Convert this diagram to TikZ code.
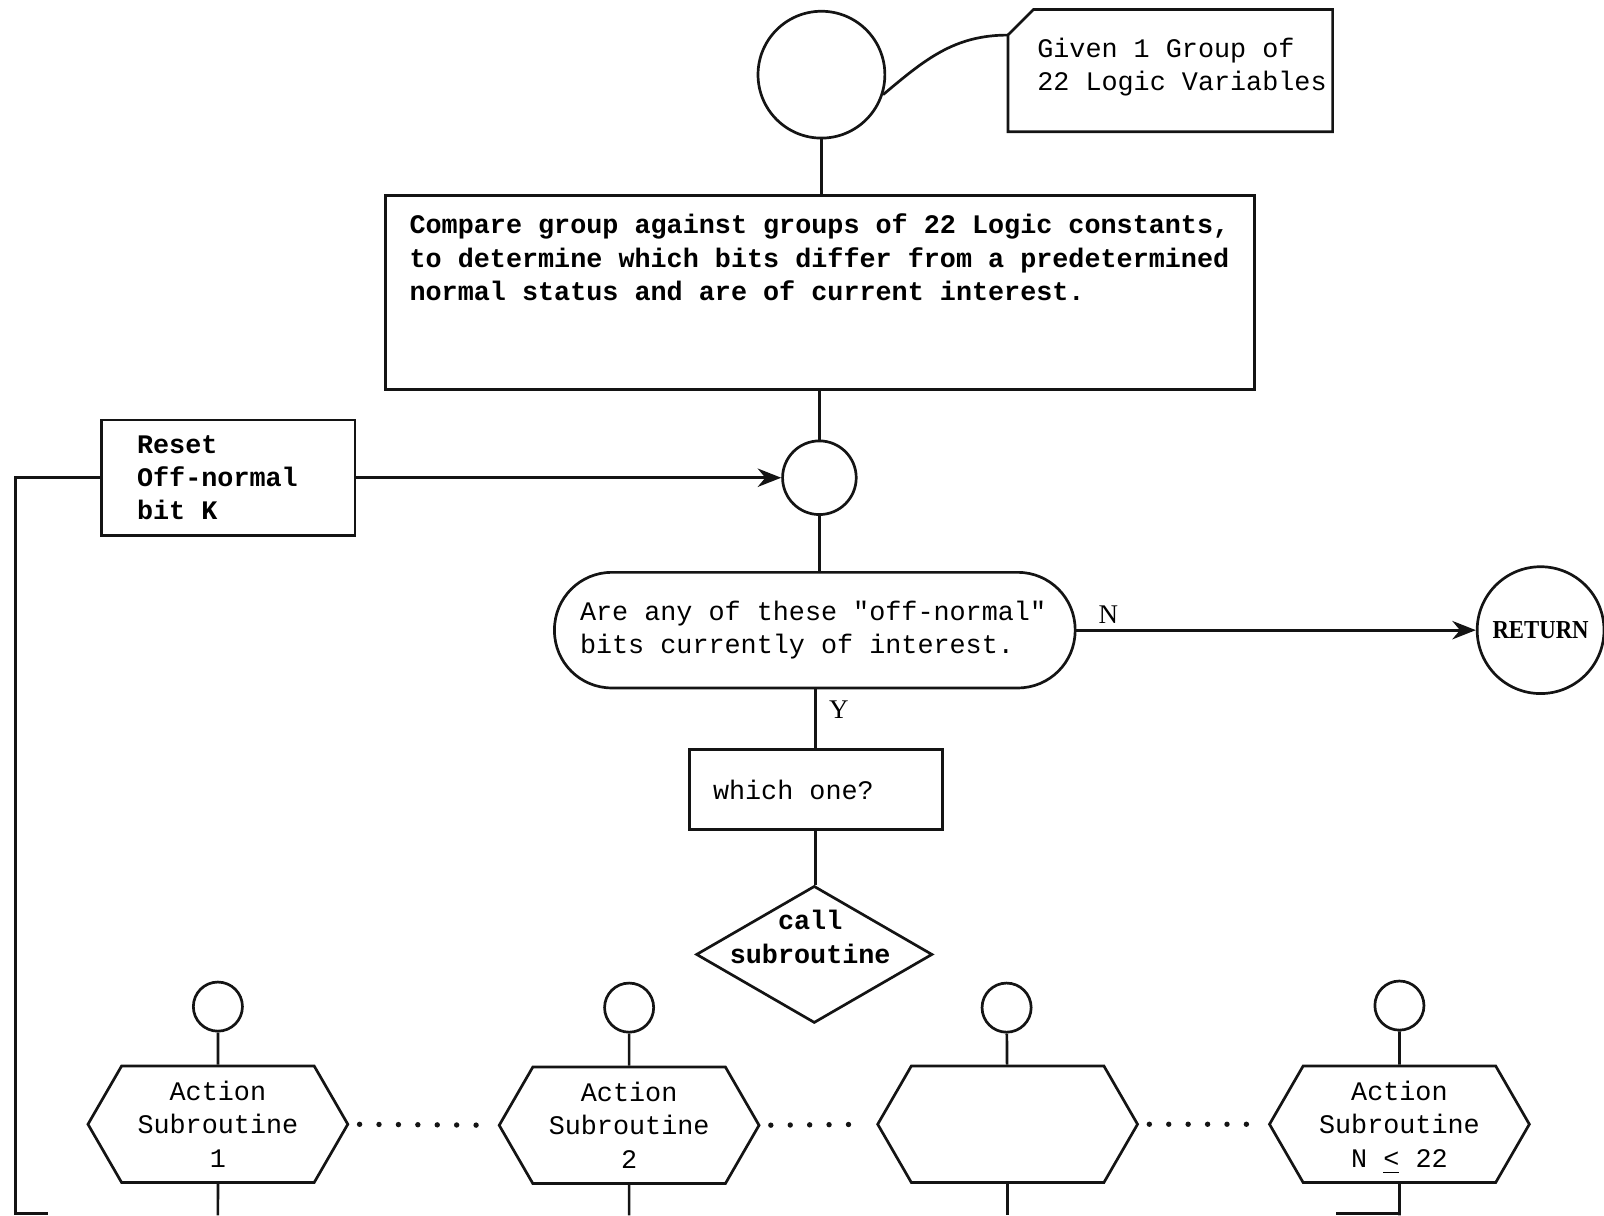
\documentclass[tikz,border=0pt]{standalone}
\usepackage{fontspec}
\setmainfont{Liberation Serif}
\setmonofont{Liberation Mono}
\usepackage{tikz}
\usetikzlibrary{arrows.meta,calc,positioning,shapes.geometric,shapes.misc,shapes.symbols}
\colorlet{chartLine}{black!92}
\newcommand{\chartfont}{\fontsize{7.45}{9.25}\selectfont\ttfamily}
\tikzset{
  chartbox/.style={
    rectangle, draw=chartLine, line width=0.75pt,
    align=flush left, font=\chartfont, inner ysep=1pt
  },
  chartcircle/.style={circle, draw=chartLine, line width=0.75pt, inner sep=0pt},
  charthex/.style={
    signal, signal to=west and east, signal pointer angle=120,
    draw=chartLine, line width=0.75pt, inner sep=0pt,
    minimum width=2.54cm, minimum height=1.14cm,
    align=center, font=\chartfont
  },
  charttext/.style={align=left, font=\chartfont, inner sep=0pt},
  chartline/.style={draw=chartLine, line width=0.75pt},
  chartarrow/.style={chartline, -{Stealth[length=2.3mm,width=1.8mm]}},
  chartdots/.style={
    draw=chartLine, line width=1.5pt, line cap=round,
    dash pattern=on 0pt off 5.4pt, shorten <=1mm, shorten >=1mm
  },
  chartlabel/.style={font=\fontsize{7.5}{9}\selectfont\rmfamily}
}

\begin{document}
\begin{tikzpicture}[x=1cm,y=1cm]
  \useasboundingbox (0,0) rectangle (15.68,11.88);

  \node[chartcircle, minimum size=1.24cm] (start) at (8.03,11.15) {};
  \node[rectangle, minimum width=3.16cm, minimum height=1.18cm] (given) at (11.44,11.19) {};
  \draw[chartline, line join=miter] (given.south west) -- ($(given.north west)+(0,-0.25)$)
    -- ($(given.north west)+(0.25,0)$) -- (given.north east) -- (given.south east) -- cycle;
  \node[charttext, anchor=north west] (giventext)
    at ($(given.north west)+(0.28,-0.27)$)
    {Given 1 Group of\\22 Logic Variables};

  \node[chartbox, minimum width=8.49cm, minimum height=1.9cm] (cmp) at (8.015,9.02) {};
  \node[charttext, anchor=north west, font=\chartfont\bfseries] (cmptext)
    at ($(cmp.north west)+(0.24,-0.19)$)
    {Compare group against groups of 22 Logic constants,\\
     to determine which bits differ from a predetermined\\
     normal status and are of current interest.};

  \node[chartcircle, minimum size=0.72cm] (join) at (8.01,7.21) {};
  \node[chartbox, font=\chartfont\bfseries, minimum height=1.13cm,
    text width=1.78cm, inner xsep=0.35cm] (reset) at (2.23,7.21)
    {Reset\\Off-normal\\bit K};

  \node[chartbox, rounded corners=5.6mm, minimum height=1.13cm,
    text width=4.59cm, inner xsep=0.25cm] (ask) at (7.965,5.72)
    {Are any of these "off-normal"\\bits currently of interest.};
  \node[chartcircle, minimum size=1.24cm,
    font=\fontsize{7.2}{8}\selectfont\rmfamily\bfseries] (ret) at (15.06,5.72)
    {\scalebox{0.88}[1]{RETURN}};

  \node[chartbox, minimum height=0.78cm, text width=2.01cm, inner xsep=0.23cm]
    (which) at (7.975,4.16) {which one?};
  \node[diamond, draw=chartLine, line width=0.75pt, inner sep=0pt,
    minimum width=2.31cm, minimum height=1.34cm] (call) at (7.96,2.55) {};
  \node[charttext, align=center, font=\chartfont\bfseries] (calltext)
    at ($(call.center)+(-0.04,0.17)$) {call\\subroutine};

  \node[chartcircle, minimum size=0.48cm] (sub1) at (2.13,2.04) {};
  \node[chartcircle, minimum size=0.48cm] (sub2) at (6.15,2.03) {};
  \node[chartcircle, minimum size=0.48cm] (sub3) at (9.84,2.03) {};
  \node[chartcircle, minimum size=0.48cm] (sub4) at (13.68,2.05) {};
  \node[charthex] (act1) at (2.13,0.89) {Action\\Subroutine\\1};
  \node[charthex] (act2) at (6.15,0.88) {Action\\Subroutine\\2};
  \node[charthex] (act3) at (9.85,0.89) {};
  \node[charthex] (act4) at (13.68,0.89) {Action\\Subroutine\\N \smash{\underline{<}} 22};

  \coordinate (base) at (0,0);
  \coordinate (loopcorner) at (0.15,0.02);
  \coordinate (loopend) at (0.47,0.02);
  \coordinate (stubcorner) at (13.68,0.02);
  \coordinate (stubend) at (13.06,0.02);

  \draw[chartline] (start.-18) to[out=40,in=180] ($(given.north west)+(0,-0.25)$);
  \draw[chartline] (start) -- (start |- cmp.north);
  \draw[chartline] (cmp.south -| join) -- (join);
  \draw[chartarrow] (reset.east) -- (join.west);
  \draw[chartline] (reset.west) -| (loopcorner) -- (loopend);
  \draw[chartline] (join) -- (join |- ask.north);
  \draw[chartarrow] (ask.east) -- node[chartlabel, above, inner sep=1.5pt, pos=0.08] (no) {N} (ret.west);
  \draw[chartline] (ask.south -| which) -- node[chartlabel, right, pos=0.34] (yes) {Y} (which);
  \draw[chartline] (which) -- (which |- call.north);

  \draw[chartline] (sub1) -- (act1);
  \draw[chartline] (sub2) -- (act2);
  \draw[chartline] (sub3) -- (act3);
  \draw[chartline] (sub4) -- (act4);
  \draw[chartdots] (act1.east) -- (act2.west);
  \draw[chartdots] (act2.east) -- (act3.west);
  \draw[chartdots] (act3.east) -- (act4.west);
  \draw[chartline] (act1) -- (act1 |- base);
  \draw[chartline] (act2) -- (act2 |- base);
  \draw[chartline] (act3) -- (act3 |- base);
  \draw[chartline] (act4) -- (act4 |- base);
  \draw[chartline] (stubcorner) -- (stubend);
\end{tikzpicture}
\end{document}
